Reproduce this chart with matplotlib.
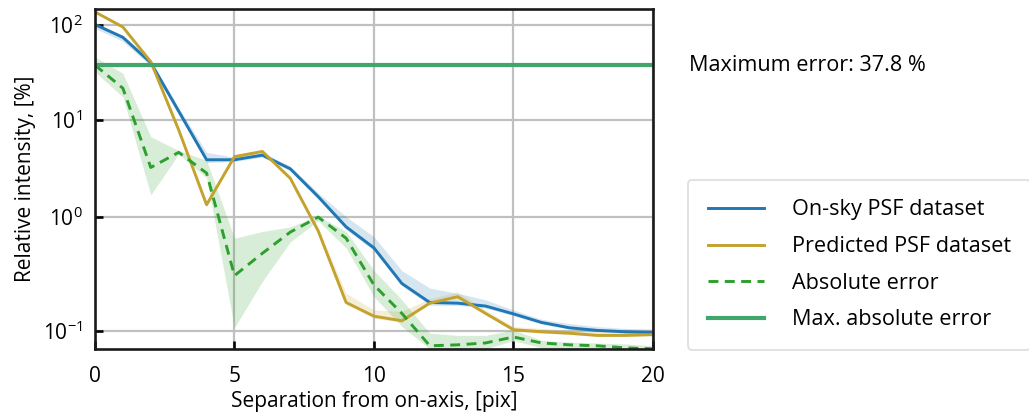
import numpy as np
import matplotlib
matplotlib.use('Agg')
import matplotlib.pyplot as plt

plt.rcParams['font.family'] = ['Open Sans', 'DejaVu Sans']
plt.rcParams['mathtext.fontset'] = 'custom'
plt.rcParams['mathtext.rm'] = 'Open Sans'
plt.rcParams['font.size'] = 15

# separation from on-axis [pix]
sep = list(range(21))

# on-sky PSF dataset (relative intensity, %)
onsky = [101, 74, 40, 12.4, 3.85, 3.85, 4.3, 3.1, 1.6, 0.79, 0.49, 0.23,
         0.16, 0.158, 0.15, 0.131, 0.114, 0.105, 0.101, 0.099, 0.098]
onsky_lo = [92, 67, 37, 11.5, 3.6, 3.7, 4.1, 2.95, 1.5, 0.74, 0.46, 0.22,
            0.152, 0.152, 0.145, 0.127, 0.111, 0.103, 0.099, 0.097, 0.096]
onsky_hi = [106, 78, 43, 13.5, 4.6, 4.1, 4.6, 3.3, 1.75, 1.0, 0.63, 0.30,
            0.21, 0.19, 0.168, 0.14, 0.12, 0.112, 0.107, 0.104, 0.103]

# predicted PSF dataset
predicted = [137, 95, 41, 7.9, 1.32, 4.15, 4.7, 2.47, 0.72, 0.16, 0.126, 0.117,
             0.158, 0.178, 0.132, 0.102, 0.099, 0.097, 0.094, 0.094, 0.095]
pred_lo = [135, 93, 40, 7.7, 1.28, 4.05, 4.6, 2.4, 0.70, 0.155, 0.122, 0.114,
           0.155, 0.174, 0.129, 0.1, 0.097, 0.095, 0.093, 0.093, 0.094]
pred_hi = [140, 97, 42, 8.1, 1.36, 4.25, 4.8, 2.55, 0.76, 0.19, 0.14, 0.137,
           0.172, 0.195, 0.14, 0.107, 0.104, 0.101, 0.099, 0.098, 0.099]

# absolute error
abs_err = [37.8, 21.6, 3.2, 4.6, 2.8, 0.27, 0.435, 0.7, 0.99, 0.61, 0.223, 0.132,
           0.082, 0.083, 0.085, 0.092, 0.085, 0.083, 0.082, 0.080, 0.079]
err_lo = [32, 17.5, 1.67, 4.4, 2.5, 0.105, 0.24, 0.56, 0.91, 0.49, 0.178, 0.107,
          0.079, 0.079, 0.079, 0.0875, 0.08, 0.079, 0.079, 0.079, 0.079]
err_hi = [46, 31, 6.7, 4.8, 3.8, 0.61, 0.71, 0.79, 1.02, 0.71, 0.30, 0.168,
          0.097, 0.094, 0.094, 0.1016, 0.088, 0.086, 0.085, 0.084, 0.082]

max_err = 37.8

ytick_vals = [100, 10, 1, 0.1]
ytick_labels = ['$10^{2}$', '$10^{1}$', '$10^{0}$', '$10^{-1}$']
xtick_vals = [0, 5, 10, 15, 20]

c_blue = '#1f77b4'
c_gold = '#c4a22e'
c_green = '#2ca02c'
c_maxg = '#42a56b'

# y axis of the reference is log-like with a small offset
off = 0.04


def fwd(v):
    return np.log10(np.clip(np.asarray(v) - off, 1e-6, None))


def inv(u):
    return 10 ** np.asarray(u) + off


fig = plt.figure(figsize=(10.29, 4.17), dpi=100)
ax = fig.add_axes([0.0923, 0.1624, 0.5423, 0.8153])

ax.fill_between(sep, onsky_lo, onsky_hi, color=c_blue, alpha=0.18, lw=0)
ax.fill_between(sep, pred_lo, pred_hi, color=c_gold, alpha=0.18, lw=0)
ax.fill_between(sep, err_lo, err_hi, color=c_green, alpha=0.18, lw=0)

ax.plot(sep, onsky, color=c_blue, lw=2.1, label='On-sky PSF dataset')
ax.plot(sep, predicted, color=c_gold, lw=2.1, label='Predicted PSF dataset')
ax.plot(sep, abs_err, color=c_green, lw=2.1, ls=(0, (3.4, 2.2)), label='Absolute error')
ax.axhline(max_err, color=c_maxg, lw=3, label='Max. absolute error')

ax.set_yscale('function', functions=(fwd, inv))
ax.set_xlim(0, 20)
ax.set_ylim(0.0786, 146)
ax.set_yticks(ytick_vals)
ax.set_yticklabels(ytick_labels)
ax.set_xticks(xtick_vals)
ax.minorticks_off()

ax.grid(True, color='#c0c0c0', lw=1.6)
ax.set_axisbelow(True)
for s in ax.spines.values():
    s.set_linewidth(1.9)
    s.set_color('#1a1a1a')
ax.tick_params(direction='in', length=6, width=1.9)
ax.tick_params(axis='x', pad=12)
ax.tick_params(axis='y', pad=9)

ax.set_xlabel('Separation from on-axis, [pix]', labelpad=3)
ax.set_ylabel('Relative intensity, [%]', labelpad=5)

fig.text(0.6696, 0.844, 'Maximum error: 37.8 %', va='center', ha='left',
         fontsize=15.6)

leg = fig.legend(loc='upper left', bbox_to_anchor=(688 / 1029, 1 - 180 / 417),
                 frameon=True, fancybox=True, handlelength=2.6, handletextpad=1.3,
                 labelspacing=0.72, borderpad=0.9, borderaxespad=0, fontsize=15.6)
leg.get_frame().set_edgecolor('#d4d4d4')
leg.get_frame().set_linewidth(1.2)

fig.savefig('out.png', dpi=100)
